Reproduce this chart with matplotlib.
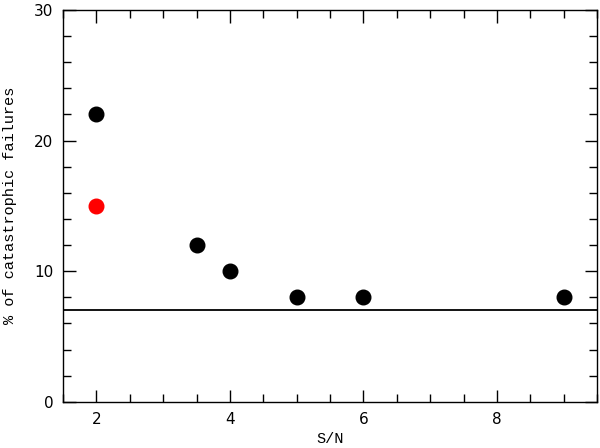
import numpy as np
import matplotlib.pyplot as plt
from matplotlib.ticker import MultipleLocator

# data
sn = [2, 3.5, 4, 5, 6, 9]
fail = [22, 12, 10, 8, 8, 8]
sn_red = [2]
fail_red = [15]
limit = 7

fig = plt.figure(figsize=(6, 4.48), dpi=100)
ax = fig.add_axes([0.105, 0.103, 0.89, 0.875])

ax.plot(sn, fail, 'o', color='black', markersize=10.5)
ax.plot(sn_red, fail_red, 'o', color='red', markersize=10.5)
ax.axhline(limit, color='black', lw=1.3)

ax.set_xlim(1.5, 9.5)
ax.set_ylim(0, 30)
ax.xaxis.set_major_locator(MultipleLocator(2))
ax.xaxis.set_minor_locator(MultipleLocator(0.5))
ax.yaxis.set_major_locator(MultipleLocator(10))
ax.yaxis.set_minor_locator(MultipleLocator(2))
ax.tick_params(which='both', direction='in', top=True, right=True, labelsize=11)
ax.tick_params(which='major', length=9, width=1, pad=7)
ax.tick_params(which='minor', length=6, width=1)
for s in ax.spines.values():
    s.set_linewidth(1)

ax.set_xlabel('S/N', family='Liberation Mono', fontsize=11, labelpad=4)
ax.set_ylabel('% of catastrophic failures', family='Liberation Mono', fontsize=11, labelpad=12)

fig.savefig('out.png')
